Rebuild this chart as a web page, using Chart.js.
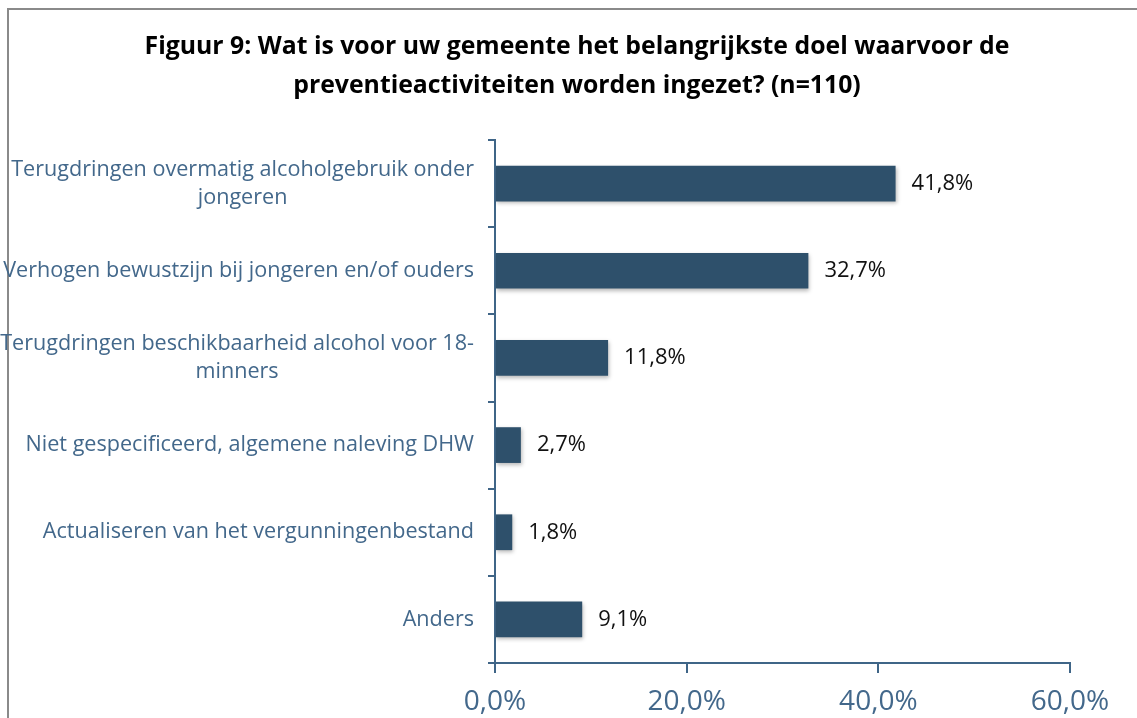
<!DOCTYPE html>
<html>
<head>
<meta charset="utf-8">
<script src="https://cdn.jsdelivr.net/npm/chart.js@4.4.0/dist/chart.umd.min.js"></script>
<style>
    html, body { margin: 0; padding: 0; background: #fff; }
    #wrap { position: relative; width: 1137px; height: 718px; }
</style>
</head>
<body>
<div id="wrap"><canvas id="goalChart"></canvas></div>
<script>
// Data
const titleLines = [
    'Figuur 9: Wat is voor uw gemeente het belangrijkste doel waarvoor de',
    'preventieactiviteiten worden ingezet? (n=110)'
];
const categories = [
    ['Terugdringen overmatig alcoholgebruik onder', 'jongeren'],
    ['Verhogen bewustzijn bij jongeren en/of ouders'],
    ['Terugdringen beschikbaarheid alcohol voor 18-', 'minners'],
    ['Niet gespecificeerd, algemene naleving DHW'],
    ['Actualiseren van het vergunningenbestand'],
    ['Anders']
];
const percentages = [41.8, 32.7, 11.8, 2.7, 1.8, 9.1];
const xTicks = [0, 20, 40, 60];

const AXIS_COLOR = '#3f6587';
const LABEL_COLOR = '#43688b';
const BAR_COLOR = '#2e506b';
const FONT = "'Open Sans', 'Noto Sans', sans-serif";

// Helper: 41.8 -> "41,8%"
function formatPct(v) {
    return v.toFixed(1).replace('.', ',') + '%';
}

// Frame around the chart (only left and top edges are visible)
const framePlugin = {
    id: 'frame',
    beforeDraw(chart) {
        const ctx = chart.ctx;
        ctx.save();
        ctx.strokeStyle = '#8a8a8a';
        ctx.lineWidth = 2;
        ctx.beginPath();
        ctx.moveTo(8, chart.height);
        ctx.lineTo(8, 9);
        ctx.lineTo(chart.width, 9);
        ctx.stroke();
        ctx.restore();
    }
};

// Title, centred on the whole frame (not on the plot area)
const titlePlugin = {
    id: 'frameTitle',
    afterDraw(chart) {
        const ctx = chart.ctx;
        ctx.save();
        ctx.font = 'bold 24.8px ' + FONT;
        ctx.fillStyle = '#000';
        ctx.textAlign = 'center';
        ctx.textBaseline = 'middle';
        titleLines.forEach((line, i) => {
            ctx.fillText(line, 577, 47 + i * 39);
        });
        ctx.restore();
    }
};

// Soft shadow under the bars
const shadowPlugin = {
    id: 'barShadow',
    beforeDatasetDraw(chart) {
        const ctx = chart.ctx;
        ctx.save();
        ctx.shadowColor = 'rgba(0, 0, 0, 0.28)';
        ctx.shadowBlur = 4;
        ctx.shadowOffsetX = 1;
        ctx.shadowOffsetY = 2;
    },
    afterDatasetDraw(chart) {
        chart.ctx.restore();
    }
};

// Category labels: block right-aligned, lines centred within the block
const categoryLabelPlugin = {
    id: 'categoryLabels',
    afterDraw(chart) {
        const ctx = chart.ctx;
        const yScale = chart.scales.y;
        const rightEdge = chart.chartArea.left - 21;
        const lineHeight = 28;
        ctx.save();
        ctx.font = '21.6px ' + FONT;
        ctx.fillStyle = LABEL_COLOR;
        ctx.textAlign = 'center';
        ctx.textBaseline = 'middle';
        categories.forEach((lines, i) => {
            const y = yScale.getPixelForTick(i);
            const widest = Math.max(...lines.map(l => ctx.measureText(l).width));
            const cx = rightEdge - widest / 2;
            const startY = y - (lines.length - 1) * lineHeight / 2;
            lines.forEach((line, j) => {
                ctx.fillText(line, cx, startY + j * lineHeight);
            });
        });
        ctx.restore();
    }
};

// Value labels to the right of each bar
const valueLabelPlugin = {
    id: 'valueLabels',
    afterDatasetsDraw(chart) {
        const ctx = chart.ctx;
        const meta = chart.getDatasetMeta(0);
        ctx.save();
        ctx.font = '22px ' + FONT;
        ctx.fillStyle = '#111';
        ctx.textAlign = 'left';
        ctx.textBaseline = 'middle';
        meta.data.forEach((bar, i) => {
            ctx.fillText(formatPct(percentages[i]), bar.x + 16, bar.y);
        });
        ctx.restore();
    }
};

const ctx = document.getElementById('goalChart').getContext('2d');
new Chart(ctx, {
    type: 'bar',
    data: {
        labels: categories,
        datasets: [{
            data: percentages,
            backgroundColor: BAR_COLOR,
            borderWidth: 0,
            barPercentage: 0.41,
            categoryPercentage: 1
        }]
    },
    options: {
        indexAxis: 'y',
        responsive: true,
        maintainAspectRatio: false,
        animation: false,
        layout: {
            padding: { top: 140, left: 16, right: 67, bottom: 0 }
        },
        scales: {
            y: {
                type: 'category',
                afterFit(scale) { scale.width = 479; },
                grid: {
                    offset: true,
                    drawOnChartArea: false,
                    drawTicks: true,
                    tickLength: 7,
                    color: AXIS_COLOR,
                    lineWidth: 2
                },
                border: { display: true, color: AXIS_COLOR, width: 2 },
                ticks: { color: 'rgba(0,0,0,0)', font: { size: 19, family: FONT } }
            },
            x: {
                min: 0,
                max: 60,
                afterFit(scale) { scale.height = 55; },
                afterBuildTicks(scale) {
                    scale.ticks = xTicks.map(v => ({ value: v }));
                },
                grid: {
                    drawOnChartArea: false,
                    drawTicks: true,
                    tickLength: 10,
                    color: AXIS_COLOR,
                    lineWidth: 2
                },
                border: { display: true, color: AXIS_COLOR, width: 2 },
                ticks: {
                    color: LABEL_COLOR,
                    padding: 12,
                    maxRotation: 0,
                    font: { size: 28, family: FONT },
                    callback: v => formatPct(v)
                }
            }
        },
        plugins: {
            legend: { display: false },
            tooltip: { enabled: false },
            title: { display: false }
        }
    },
    plugins: [framePlugin, titlePlugin, shadowPlugin, categoryLabelPlugin, valueLabelPlugin]
});
</script>
</body>
</html>
